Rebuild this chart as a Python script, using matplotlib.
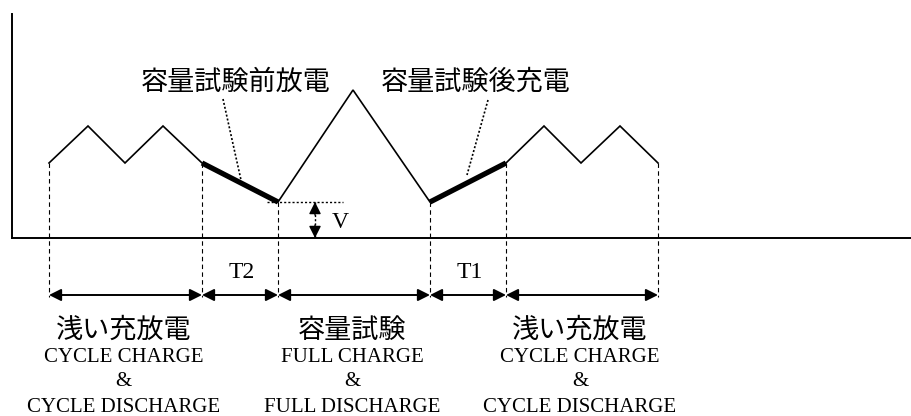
import matplotlib.pyplot as plt

# waveform vertices (time, voltage) in arbitrary units
wave_t = [37, 76, 113, 151, 190, 266, 341, 418, 494, 532, 569, 608, 646]
wave_v = [75, 112, 75, 112, 75, 36, 148, 36, 75, 112, 75, 112, 75]

# vertex indices where the phases change
phase_idx = [0, 4, 5, 7, 8, 12]
# thick segments (start vertex index)
thick_idx = [4, 7]

phase_jp = ['浅い充放電', '', '容量試験', '', '浅い充放電']
phase_en1 = ['CYCLE CHARGE', '', 'FULL CHARGE', '', 'CYCLE CHARGE']
phase_en2 = ['CYCLE DISCHARGE', '', 'FULL DISCHARGE', '', 'CYCLE DISCHARGE']
gap_labels = ['', 'T2', '', 'T1', '']

callout_labels = ['容量試験前放電', '容量試験後充電']

JP = ['Noto Sans CJK JP', 'DejaVu Sans']
EN = ['Liberation Serif', 'DejaVu Serif']


def main():
    fig = plt.figure(figsize=(9.12, 4.16), dpi=100)
    ax = fig.add_axes([0, 0, 1, 1])
    ax.set_xlim(-12, 900)
    ax.set_ylim(-178, 238)
    ax.axis('off')

    # axes
    ax.plot([0, 0], [0, 224], color='k', lw=1.4)
    ax.plot([0, 900], [0, 0], color='k', lw=1.4)

    # waveform
    ax.plot(wave_t, wave_v, color='k', lw=1.2, solid_joinstyle='miter')
    for i in thick_idx:
        ax.plot(wave_t[i:i + 2], wave_v[i:i + 2], color='k', lw=3.8,
                solid_capstyle='butt')

    # dashed boundaries + dimension arrows
    arrow_y = -57
    for i in phase_idx:
        ax.plot([wave_t[i], wave_t[i]], [wave_v[i], arrow_y - 2], color='k',
                lw=0.8, linestyle=(0, (4, 3)))
    for k in range(len(phase_idx) - 1):
        t0 = wave_t[phase_idx[k]]
        t1 = wave_t[phase_idx[k + 1]]
        ax.annotate('', xy=(t1, arrow_y), xytext=(t0, arrow_y),
                    arrowprops=dict(arrowstyle='<|-|>', color='k', lw=1.4,
                                    mutation_scale=18, shrinkA=0, shrinkB=0))
        mid = (t0 + t1) / 2
        if gap_labels[k]:
            ax.text(mid + 2, -35, gap_labels[k], ha='center', va='center',
                    fontsize=17, family=EN)
        if phase_jp[k]:
            ax.text(mid - 2, -92, phase_jp[k], ha='center', va='center',
                    fontsize=19.5, family=JP)
            ax.text(mid - 2, -119, phase_en1[k], ha='center', va='center',
                    fontsize=15, family=EN)
            ax.text(mid - 2, -144, '&', ha='center', va='center',
                    fontsize=15, family=EN)
            ax.text(mid - 2, -169, phase_en2[k], ha='center', va='center',
                    fontsize=15, family=EN)

    # callouts
    ax.text(224, 156, callout_labels[0], ha='center', va='center',
            fontsize=19.5, family=JP)
    ax.text(464, 156, callout_labels[1], ha='center', va='center',
            fontsize=19.5, family=JP)
    ax.plot([211, 229], [139, 58], color='k', lw=1.2, linestyle=(0, (1.2, 1.2)))
    ax.plot([476, 455], [138, 63], color='k', lw=1.2, linestyle=(0, (1.2, 1.2)))

    # V dimension
    vmin = wave_v[5]
    ax.plot([255, 331], [vmin, vmin], color='k', lw=1, linestyle=(0, (1.5, 1.5)))
    ax.plot([303, 303], [vmin, 0], color='k', lw=1, linestyle=(0, (1.5, 1.5)))
    ax.annotate('', xy=(303, vmin), xytext=(303, vmin - 13),
                arrowprops=dict(arrowstyle='-|>', color='k', lw=1,
                                mutation_scale=18, shrinkA=0, shrinkB=0))
    ax.annotate('', xy=(303, 0), xytext=(303, 13),
                arrowprops=dict(arrowstyle='-|>', color='k', lw=1,
                                mutation_scale=18, shrinkA=0, shrinkB=0))
    ax.text(320, 16, 'V', ha='left', va='center', fontsize=17, family=EN)

    fig.savefig('out.png', dpi=100)


if __name__ == '__main__':
    main()
